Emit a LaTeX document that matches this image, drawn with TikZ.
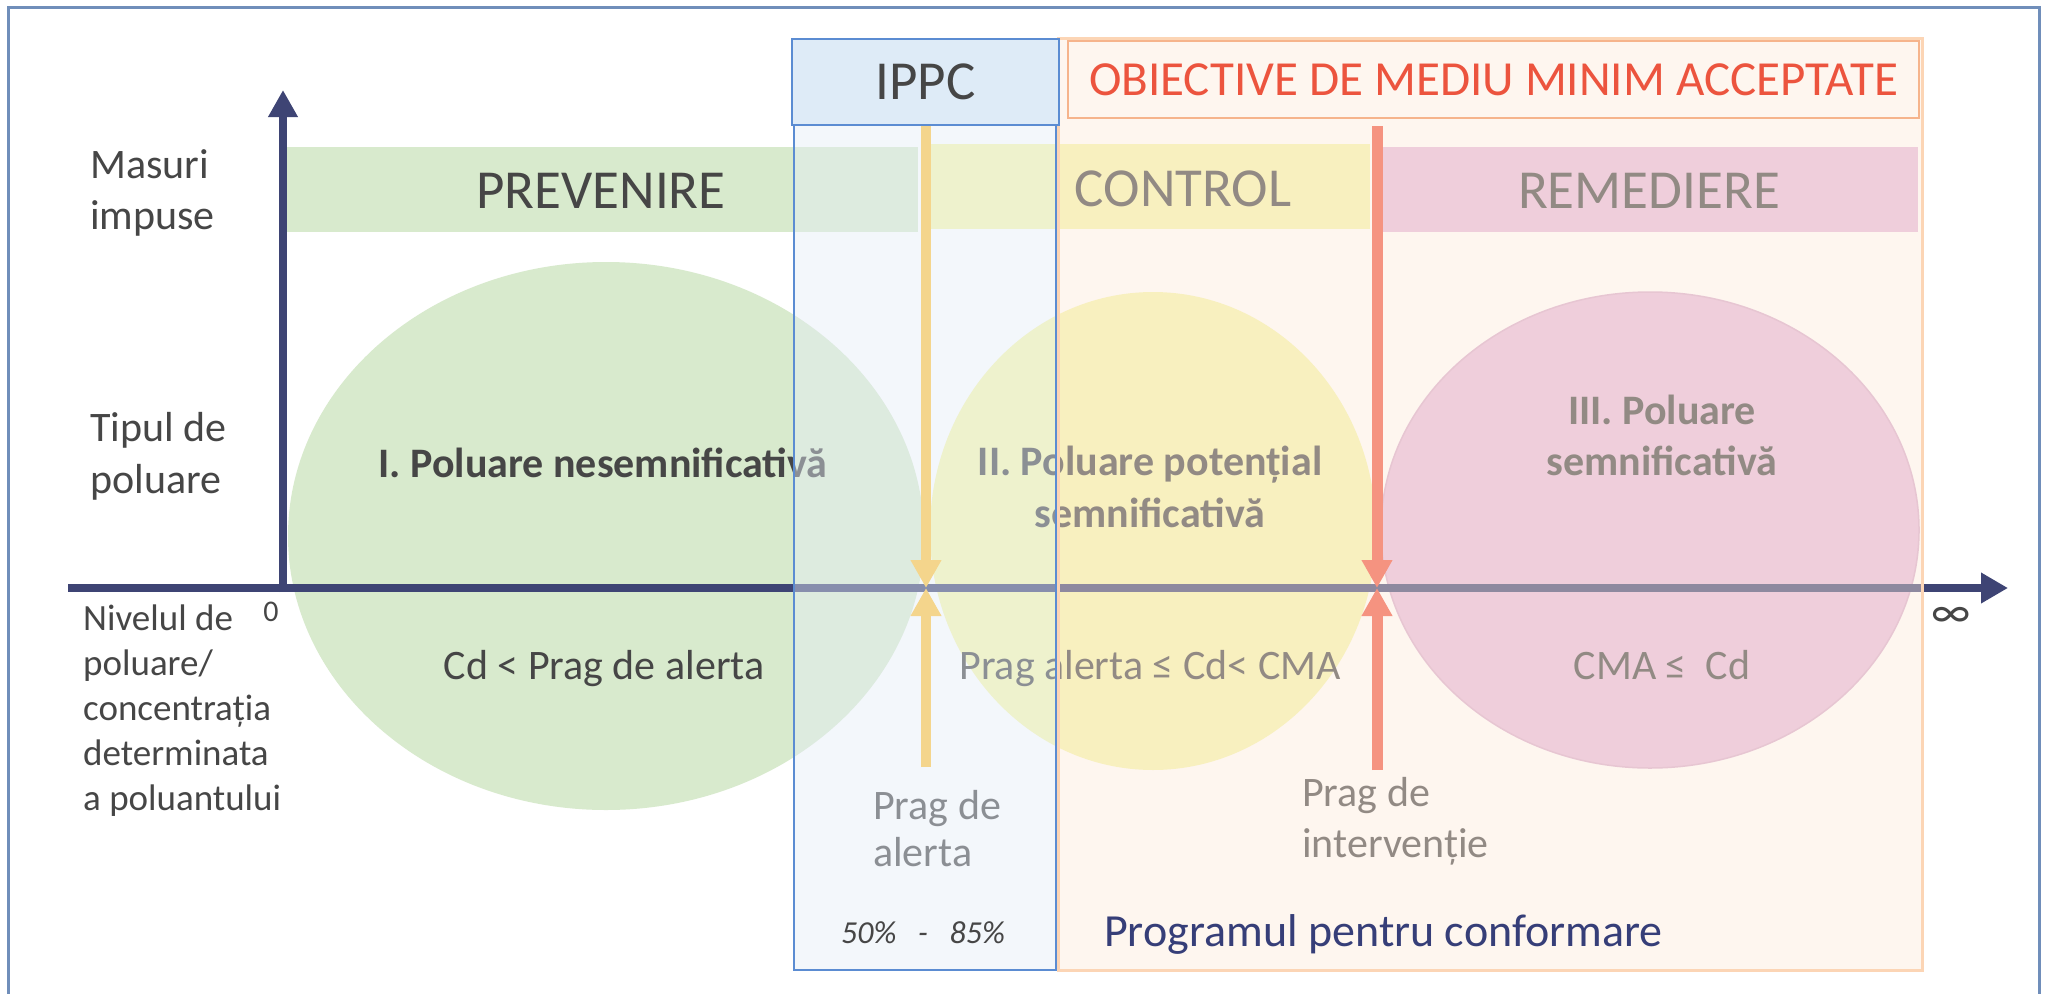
\documentclass[tikz,border=0pt]{standalone}
\usepackage{fontspec}
\setmainfont{Carlito}
\usetikzlibrary{arrows.meta,shapes.geometric}

\definecolor{axisblue}{RGB}{62,68,116}
\definecolor{framec}{RGB}{112,142,186}
\definecolor{darktext}{RGB}{70,70,70}
\definecolor{greenf}{RGB}{216,234,205}
\definecolor{yellowf}{RGB}{246,246,172}
\definecolor{pinkf}{RGB}{229,187,219}
\definecolor{pinkline}{RGB}{216,172,205}
\definecolor{ippcf}{RGB}{229,237,248}
\definecolor{ippchead}{RGB}{222,235,247}
\definecolor{ippcline}{RGB}{91,140,210}
\definecolor{orangef}{RGB}{253,234,219}
\definecolor{orangeline}{RGB}{252,213,181}
\definecolor{objline}{RGB}{246,180,140}
\definecolor{objred}{RGB}{236,84,62}
\definecolor{alertc}{RGB}{244,213,140}
\definecolor{interc}{RGB}{245,147,128}
\definecolor{progblue}{RGB}{54,62,120}

\newcommand\fsz[2]{\fontsize{#1}{#2}\selectfont}

\begin{document}
\begin{tikzpicture}[x=1pt,y=-1pt,
	lbl/.style={inner sep=0pt,text=darktext},
	zone/.style={ellipse,inner sep=0pt},
	axisline/.style={draw=axisblue,line width=8pt},
	alertline/.style={draw=alertc,line width=10pt,-{Triangle[width=29pt,length=28pt]}},
	interline/.style={draw=interc,line width=11pt,-{Triangle[width=29pt,length=28pt]}}]
	\useasboundingbox (0,0) rectangle (2047,993);
	\fill[white] (0,0) rectangle (2047,993);
	\draw[framec,line width=3pt] (8,1010) -- (8,7) -- (2039,7) -- (2039,1010);
	% benzile de sus
	\fill[greenf] (287,147) rectangle (918,232);
	\fill[yellowf] (930,144) rectangle (1370,229);
	\fill[pinkf] (1383,147) rectangle (1918,232);
	% zonele de poluare
	\node[zone,fill=greenf,minimum width=636pt,minimum height=548pt] (Z1) at (606,536) {};
	\node[zone,fill=yellowf,minimum width=446pt,minimum height=478pt] (Z2) at (1153,531) {};
	\node[zone,fill=pinkf,draw=pinkline,line width=1.5pt,minimum width=538pt,minimum height=476pt] (Z3) at (1650,530) {};
	% axe
	\coordinate (O) at (283,592);
	\coordinate (Y) at (283,90);
	\coordinate (X0) at (68,588);
	\coordinate (X) at (2008,588);
	\draw[axisline,-{Triangle[width=28pt,length=27pt]}] (O) -- (Y);
	\draw[axisline,-{Triangle[width=29pt,length=27pt]}] (X0) -- (X);
	\node[lbl,font=\fsz{30}{36}] (zero) at (271,612) {0};
	\node[lbl,font=\fsz{46}{50}] (inf) at (1951,617) {∞};
	% texte
	\node[lbl,font=\fsz{42}{51},align=left,anchor=base west] (masuri) at (90,229) {Masuri\\impuse};
	\node[lbl,font=\fsz{42}{52},align=left,anchor=base west] (tipul) at (90,493) {Tipul de\\poluare};
	\node[lbl,font=\fsz{37}{45},align=left,anchor=base west] (nivel) at (83,810)
		{Nivelul de\\poluare/\\concentrația\\determinata\\a poluantului};
	\node[lbl,font=\fsz{55}{60},anchor=base] (prev) at (601,208) {PREVENIRE};
	\node[lbl,font=\fsz{55}{60},anchor=base] (ctrl) at (1183,206) {CONTROL};
	\node[lbl,font=\fsz{55}{60},anchor=base] (rem) at (1649,208) {REMEDIERE};
	\node[lbl,font=\bfseries\fsz{42}{52},anchor=base] (p1) at (603,477) {I. Poluare nesemnificativă};
	\node[lbl,font=\fsz{42}{52},anchor=base] (c1) at (604,679) {Cd < Prag de alerta};
	\node[lbl,font=\bfseries\fsz{42}{52},align=center,anchor=base] (p2) at (1150,527)
		{II. Poluare potențial\\semnificativă};
	\node[lbl,font=\fsz{42}{52},anchor=base] (c2) at (1150,679) {Prag alerta ≤ Cd< CMA};
	\node[lbl,font=\bfseries\fsz{42}{51},align=center,anchor=base] (p3) at (1662,475)
		{III. Poluare\\semnificativă};
	\node[lbl,font=\fsz{42}{52},anchor=base] (c3) at (1662,679) {CMA ≤\ \ Cd};
	\node[lbl,font=\fsz{42}{47},align=left,anchor=base west] (palerta) at (873,866) {Prag de\\alerta};
	\node[lbl,font=\fsz{42}{51},align=left,anchor=base west] (pinterv) at (1302,857) {Prag de\\intervenție};
	% coloanele IPPC si obiective
	\filldraw[fill=ippcf,fill opacity=.44,draw=ippcline,line width=1.5pt] (794,125) rectangle (1056,970);
	\filldraw[fill=orangef,fill opacity=.42,draw=orangeline,line width=3pt] (1058,38) rectangle (1922,970);
	\node[draw=ippcline,line width=2pt,fill=ippchead,minimum width=267pt,minimum height=86pt,
		inner sep=0pt,text=darktext,font=\fsz{55}{60}] (ippc) at (925.5,82) {IPPC};
	\node[draw=objline,line width=2.5pt,minimum width=851pt,minimum height=77pt,
		inner sep=0pt,text=objred,font=\fsz{49}{56}] (obj) at (1493.5,79.5) {OBIECTIVE DE MEDIU MINIM ACCEPTATE};
	% pragurile
	\coordinate (AT) at (926,126);
	\coordinate (AP) at (926,588);
	\coordinate (AB) at (926,767);
	\coordinate (IT) at (1377,126);
	\coordinate (IP) at (1377,588);
	\coordinate (IB) at (1377,770);
	\draw[alertline] (AT) -- (AP);
	\draw[alertline] (AB) -- (AP);
	\draw[interline] (IT) -- (IP);
	\draw[interline] (IB) -- (IP);
	\node[lbl,font=\itshape\fsz{32}{38},anchor=base west] (proc) at (841,943) {50\%\ \ \ -\ \ \ 85\%};
	\node[inner sep=0pt,text=progblue,font=\fsz{46}{52},anchor=base west] (prog) at (1104,946)
		{Programul pentru conformare};
\end{tikzpicture}
\end{document}
